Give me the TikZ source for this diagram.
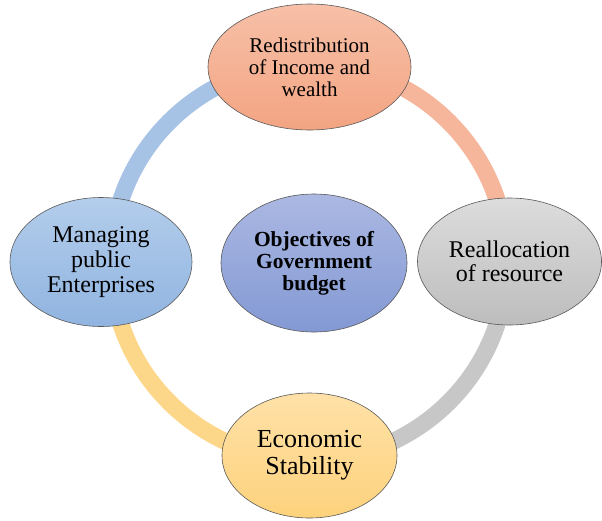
\documentclass[tikz,border=0pt]{standalone}
\usepackage{fontspec}
\setmainfont{Liberation Serif}
\usetikzlibrary{shapes.geometric}

\definecolor{salmonTop}{HTML}{F7C0A8}
\definecolor{salmonBot}{HTML}{F3A482}
\definecolor{greyTop}{HTML}{DCDCDC}
\definecolor{greyBot}{HTML}{BDBDBD}
\definecolor{goldTop}{HTML}{FFE1A8}
\definecolor{goldBot}{HTML}{FDD27C}
\definecolor{skyTop}{HTML}{B3CDEB}
\definecolor{skyBot}{HTML}{90B4E0}
\definecolor{lilacTop}{HTML}{ABB8E2}
\definecolor{lilacBot}{HTML}{8399D4}

\tikzset{
  goal/.style={ellipse, draw=black!65, line width=0.6pt, inner sep=0pt, align=center, text=black},
  ring/.style={line width=17pt}
}

\begin{document}
\begin{tikzpicture}
[x=1pt,y=-1pt]
\useasboundingbox (0,0) rectangle (602,520);
\coordinate (ctr) at (309,262);
% the ring
\draw [ring, color=salmonBot!80!white] (ctr) ++(270:198) arc (270:360:198);
\draw [ring, color=greyBot!85!white] (ctr) ++(0:198) arc (0:90:198);
\draw [ring, color=goldBot!90!white] (ctr) ++(90:198) arc (90:180:198);
\draw [ring, color=skyBot!80!white] (ctr) ++(180:198) arc (180:270:198);
% the ellipses
\node [goal, top color=salmonTop, bottom color=salmonBot, minimum width=203pt, minimum height=126pt,
  font=\fontsize{21}{22}\selectfont] (redis) at (309.5,67) {Redistribution\\of Income and\\wealth};
\node [goal, top color=greyTop, bottom color=greyBot, minimum width=184pt, minimum height=127pt,
  font=\fontsize{24}{24}\selectfont] (realloc) at (509.5,261.5) {Reallocation\\of resource};
\node [goal, top color=goldTop, bottom color=goldBot, minimum width=175pt, minimum height=125pt,
  font=\fontsize{26}{27}\selectfont] (econ) at (309.5,455.5) {Economic\\Stability};
\node [goal, top color=skyTop, bottom color=skyBot, minimum width=182pt, minimum height=129pt,
  font=\fontsize{24}{25}\selectfont] (manage) at (101,262) {Managing\\public\\Enterprises};
\node [goal, top color=lilacTop, bottom color=lilacBot, minimum width=186pt, minimum height=138pt,
  font=\bfseries\fontsize{21.5}{22}\selectfont] (objgov) at (314,263) {Objectives of\\Government\\budget};
\end{tikzpicture}
\end{document}
